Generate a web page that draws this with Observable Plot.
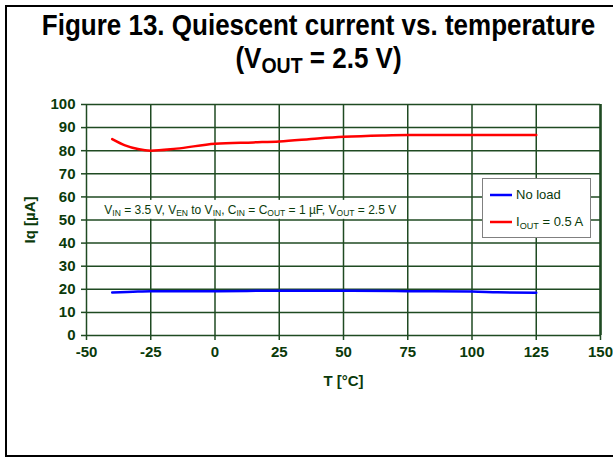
<!DOCTYPE html>
<html>
<head>
<meta charset="utf-8">
<script src="https://cdn.jsdelivr.net/npm/d3@7"></script>
<script src="https://cdn.jsdelivr.net/npm/@observablehq/plot@0.6"></script>
<style>
  html, body { margin: 0; padding: 0; background: #fff; overflow: hidden; }
  #page { position: relative; width: 613px; height: 457px; font-family: "Liberation Sans", Arial, sans-serif; }
  #frame { position: absolute; left: 5px; top: 5px; width: 700px; height: 452px; box-sizing: border-box; border: 2px solid #000; }
  #title { position: absolute; left: 12px; top: 9px; width: 613px; text-align: center; font-weight: bold; font-size: 26px; line-height: 28px; color: #000; transform: scale(1, 1.15); transform-origin: 50% 0; }
  #title sub { font-size: 0.75em; vertical-align: -0.25em; line-height: 0; }
  #chart { position: absolute; left: 0; top: 90px; }
  #legend { position: absolute; left: 482px; top: 178px; width: 109px; height: 60px; box-sizing: border-box; border: 1px solid #808080; background: #fff; font-size: 13px; color: #0a3a0a; }
  #legend .row { position: absolute; left: 7px; display: flex; align-items: center; white-space: nowrap; }
  #legend svg { margin-right: 4px; }
  #legend sub { font-size: 0.7em; vertical-align: -0.35em; line-height: 0; }
</style>
</head>
<body>
<div id="page">
  <div id="frame"></div>
  <div id="title"></div>
  <div id="chart"></div>
  <div id="legend"></div>
</div>
<script>
// ---- data ----
const titleLine1 = "Figure 13. Quiescent current vs. temperature";
const titleLine2 = ["(V", "OUT", " = 2.5 V)"];
const xLabel = "T [°C]";
const yLabel = "Iq [µA]";
const xTicks = [-50, -25, 0, 25, 50, 75, 100, 125, 150];
const yTicks = [0, 10, 20, 30, 40, 50, 60, 70, 80, 90, 100];

const tempLoad = [-40, -35, -30, -25, -15, 0, 15, 25, 40, 50, 65, 75, 100, 125];
const iqLoad   = [85, 82.3, 80.7, 80, 80.9, 83, 83.6, 84, 85.3, 86, 86.6, 86.8, 86.8, 86.8];

const tempNoLoad = [-40, -30, -25, 0, 25, 50, 75, 100, 110, 125];
const iqNoLoad   = [18.6, 19.1, 19.2, 19.2, 19.4, 19.4, 19.2, 19.0, 18.7, 18.5];

const seriesNames = ["No load", "I{OUT} = 0.5 A"];
const seriesColors = ["#0000ff", "#ff0000"];

// annotation (data coordinates)
const noteText = "V{IN} = 3.5 V, V{EN} to V{IN}, C{IN} = C{OUT} = 1 µF, V{OUT} = 2.5 V";
const noteX = [-45, 72];
const noteY = [50.3, 58.5];

// ---- build ----
const rows = [
  ...tempNoLoad.map((t, i) => ({T: t, Iq: iqNoLoad[i], s: seriesNames[0]})),
  ...tempLoad.map((t, i) => ({T: t, Iq: iqLoad[i], s: seriesNames[1]}))
];

const textColor = "#0a3a0a";
const gridColor = "#1f4a22";

document.getElementById("title").innerHTML =
  titleLine1 + "<br>" + titleLine2[0] + "<sub>" + titleLine2[1] + "</sub>" + titleLine2[2];

function richHTML(str) {
  return str.replace(/\{([^}]*)\}/g, "<sub>$1</sub>");
}

const fmt = d => String(d);

const chart = Plot.plot({
  width: 613,
  height: 310,
  marginLeft: 86,
  marginRight: 13,
  marginTop: 14,
  marginBottom: 65,
  style: {fontFamily: "Liberation Sans, Arial, sans-serif", fontSize: "15px", fontWeight: "bold", color: textColor, background: "transparent"},
  x: {domain: [-50, 150]},
  y: {domain: [0, 100]},
  color: {domain: seriesNames, range: [seriesColors[0], seriesColors[1]]},
  marks: [
    Plot.ruleX(xTicks, {stroke: gridColor, strokeWidth: 1.5}),
    Plot.ruleY(yTicks, {stroke: gridColor, strokeWidth: 1.5}),
    Plot.rect([0], {x1: () => noteX[0], x2: () => noteX[1], y1: () => noteY[0], y2: () => noteY[1], fill: "#fff"}),
    Plot.text([noteText], {x: () => noteX[0], y: () => (noteY[0] + noteY[1]) / 2, text: d => d, textAnchor: "start", dx: 5, fill: textColor, fontWeight: "normal", fontSize: 12, className: "note"}),
    Plot.line(rows, {x: "T", y: "Iq", z: "s", stroke: "s", strokeWidth: 2.5, curve: "monotone-x"}),
    Plot.ruleX([150], {stroke: gridColor, strokeWidth: 2.5}),
    Plot.axisX({ticks: xTicks, tickFormat: fmt, tickSize: 5, tickPadding: 6, stroke: gridColor, strokeWidth: 1.5,
                label: xLabel, labelAnchor: "center", labelOffset: 50, labelArrow: "none"}),
    Plot.axisY({ticks: yTicks, tickFormat: fmt, tickSize: 5, tickPadding: 6, stroke: gridColor, strokeWidth: 1.5,
                label: yLabel, labelAnchor: "center", labelOffset: 62, labelArrow: "none"})
  ]
});
document.getElementById("chart").appendChild(chart);

// subscripts in the note
d3.select(chart).selectAll("g.note text").each(function () {
  const el = d3.select(this);
  const s = el.text();
  el.text(null);
  const parts = s.split(/(\{[^}]*\})/);
  parts.forEach(p => {
    if (!p) return;
    if (p.startsWith("{")) {
      el.append("tspan").attr("font-size", 8.5).attr("baseline-shift", "-2").text(p.slice(1, -1));
    } else {
      el.append("tspan").text(p);
    }
  });
});

// legend
const leg = document.getElementById("legend");
seriesNames.forEach((name, i) => {
  const row = document.createElement("div");
  row.className = "row";
  row.style.top = (i === 0 ? 8 : 35) + "px";
  row.innerHTML = `<svg width="22" height="4"><line x1="0" x2="22" y1="2" y2="2" stroke="${seriesColors[i]}" stroke-width="2.5"/></svg><span>${richHTML(name)}</span>`;
  leg.appendChild(row);
});
</script>
</body>
</html>
